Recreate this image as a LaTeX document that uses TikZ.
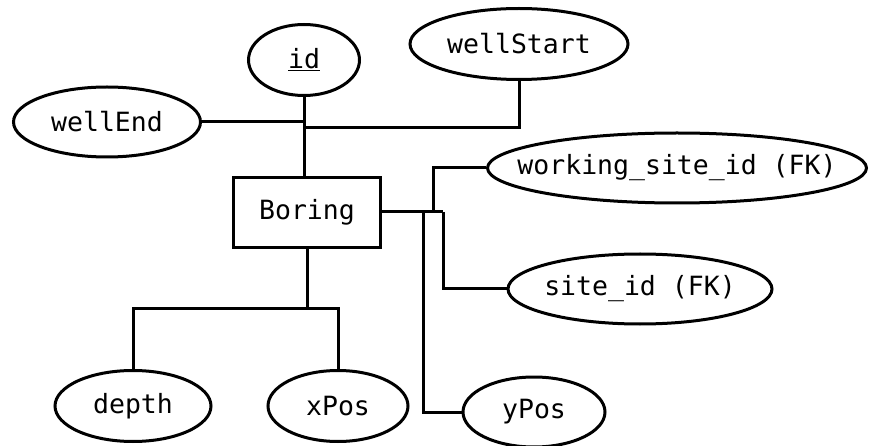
\documentclass[tikz,border=0pt]{standalone}
\usepackage{fontspec}
\newfontfamily\erfont{DejaVu Sans Mono}
\usetikzlibrary{shapes.geometric}
\tikzset{
  attr/.style={ellipse, draw, line width=3pt, inner ysep=0pt, inner xsep=-30pt, font=\erfont\fontsize{26.5}{30}\selectfont},
  entity/.style={rectangle, draw, line width=3pt, inner sep=0pt, minimum width=147pt, minimum height=70pt, font=\erfont\fontsize{26.5}{30}\selectfont},
  link/.style={line width=3pt, line join=miter}
}
\begin{document}
\begin{tikzpicture}[x=1pt,y=-1pt]
\useasboundingbox (0,0) rectangle (870,446);
% entity
\node[entity] (boring) at (307,212.5) {Boring};
% attributes
\node[attr, minimum width=111pt, minimum height=71pt] (id) at (304,60) {\underline{id}};
\node[attr, minimum width=187pt, minimum height=70pt] (wellEnd) at (107,122) {wellEnd};
\node[attr, minimum width=218pt, minimum height=71pt] (wellStart) at (519,44) {wellStart};
\node[attr, minimum width=379pt, minimum height=70pt] (wsid) at (677,168) {working\_site\_id (FK)};
\node[attr, minimum width=264pt, minimum height=70pt] (siteid) at (640,289) {site\_id (FK)};
\node[attr, minimum width=142pt, minimum height=70pt] (yPos) at (534,412) {yPos};
\node[attr, minimum width=156pt, minimum height=71pt] (depth) at (133,406) {depth};
\node[attr, minimum width=140pt, minimum height=71pt] (xPos) at (338,406) {xPos};
% junction points
\coordinate (jtop) at (306,128);
\coordinate (jr1) at (423,212);
\coordinate (jr2) at (433,212);
\coordinate (jr3) at (443,212);
\coordinate (jb) at (307,309);
% connectors above the entity
\draw[link] (id.south) -- (id.south |- boring.north);
\draw[link] (wellEnd.east) -- (wellEnd.east -| id.south);
\draw[link] (wellStart.south) |- (jtop);
% connectors right of the entity
\draw[link] (boring.east |- jr3) -- (jr3);
\draw[link] (jr2) |- (wsid.west);
\draw[link] (jr3) |- (siteid.west);
\draw[link] (jr1) |- (yPos.west);
% connectors below the entity
\draw[link] (boring.south) -- (jb);
\draw[link] (depth.north) |- (jb) -| (xPos.north);
\end{tikzpicture}
\end{document}
